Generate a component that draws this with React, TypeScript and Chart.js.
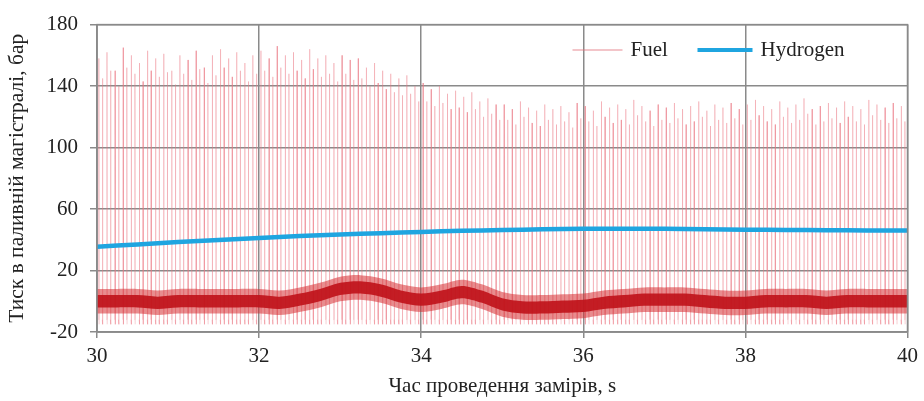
import React, { useEffect, useRef } from "react";
import { Chart, registerables } from "chart.js";

Chart.register(...registerables);

// Hydrogen line pressure (bar), sampled every 0.5 s from 30 to 40 s
const hydroTimes = [30, 30.5, 31, 31.5, 32, 32.5, 33, 33.5, 34, 34.5, 35, 35.5, 36, 36.5, 37, 37.5, 38, 38.5, 39, 39.5, 40];
const hydroValues = [35.5, 37, 38.5, 39.9, 41.2, 42.4, 43.4, 44.3, 45.1, 45.8, 46.3, 46.8, 47.1, 47.2, 47.1, 46.9, 46.6, 46.4, 46.2, 46.1, 46];

// Fuel baseline band (centre of the noisy trace), every 0.25 s
const bandTimes = [30, 30.25, 30.5, 30.75, 31, 31.25, 31.5, 31.75, 32, 32.25, 32.5, 32.75, 33, 33.25, 33.5, 33.75, 34, 34.25, 34.5, 34.75, 35, 35.25, 35.5, 35.75, 36, 36.25, 36.5, 36.75, 37, 37.25, 37.5, 37.75, 38, 38.25, 38.5, 38.75, 39, 39.25, 39.5, 39.75, 40];
const bandCenter = [0, 0, 0, -1, 0, 0, 0, 0, 0, -1, 1, 4, 8, 9, 7, 3, 1, 3, 6, 3, -2, -4, -4, -3.5, -3, -1, 0, 1, 1, 1, 0, -1, -1, 0, 0, 0, -1, 0, 0, 0, 0];

// Fuel injection pulses: peak pressure of each main pulse (one per 0.1 s)
const spikePeaks = [
  158, 162, 150, 165, 160, 155, 163, 158, 161, 150,
  160, 157, 163, 152, 160, 164, 158, 162, 155, 160,
  163, 158, 166, 160, 162, 157, 164, 158, 160, 155,
  160, 157, 158, 152, 155, 150, 148, 145, 147, 140,
  142, 138, 140, 135, 137, 133, 136, 130, 132, 128,
  128, 125, 130, 126, 124, 128, 125, 127, 123, 129,
  127, 124, 130, 126, 128, 125, 131, 127, 124, 128,
  126, 129, 125, 127, 130, 124, 128, 126, 129, 125,
  128, 131, 127, 125, 130, 126, 128, 132, 125, 127,
  129, 126, 130, 127, 125, 131, 128, 126, 129, 127,
];
// secondary (reflected) pulses between main pulses
const spikeMinor = [
  145, 150, 140, 152, 148, 143, 150, 146, 149, 141,
  148, 144, 151, 142, 147, 152, 146, 150, 143, 148,
  150, 146, 152, 148, 150, 145, 151, 146, 148, 143,
  148, 144, 145, 140, 142, 138, 136, 134, 135, 130,
  130, 127, 129, 125, 126, 123, 125, 120, 122, 118,
  118, 115, 120, 116, 114, 118, 115, 117, 113, 119,
  117, 114, 120, 116, 118, 115, 121, 117, 114, 118,
  116, 119, 115, 117, 120, 114, 118, 116, 119, 115,
  118, 121, 117, 115, 120, 116, 118, 122, 115, 117,
  119, 116, 120, 117, 115, 121, 118, 116, 119, 117,
];
const spikeLows = [-12, -15];

const xTicks = [30, 32, 34, 36, 38, 40];
const yTicks = [-20, 20, 60, 100, 140, 180];

const FONT = "'Liberation Serif', 'Times New Roman', serif";

export default function App() {
  const ref = useRef<HTMLCanvasElement | null>(null);

  useEffect(() => {
    document.body.style.margin = "0";
    const canvas = ref.current;
    if (!canvas) return;

    const hydro = hydroTimes.map((t, i) => ({ x: t, y: hydroValues[i] }));
    const outerUp = bandTimes.map((t, i) => ({ x: t, y: bandCenter[i] + 8 }));
    const outerLo = bandTimes.map((t, i) => ({ x: t, y: bandCenter[i] - 8 }));
    const innerUp = bandTimes.map((t, i) => ({ x: t, y: bandCenter[i] + 4 }));
    const innerLo = bandTimes.map((t, i) => ({ x: t, y: bandCenter[i] - 4 }));
    const spikes: { x: number; y: number | null }[] = [];
    const addPulse = (t: number, p: number) => {
      spikes.push({ x: t, y: spikeLows[0] });
      spikes.push({ x: t + 0.003, y: p });
      spikes.push({ x: t + 0.006, y: spikeLows[1] });
      spikes.push({ x: t + 0.007, y: null });
    };
    spikePeaks.forEach((p, i) => {
      addPulse(30 + 0.1 * i + 0.02, p);
      addPulse(30 + 0.1 * i + 0.065, spikeMinor[i]);
    });

    const legendPlugin = {
      id: "customLegend",
      afterDraw(chart: any) {
        const { ctx, chartArea } = chart;
        const y = 50;
        const r = chartArea.right;
        ctx.save();
        ctx.strokeStyle = "rgba(225,110,120,0.8)";
        ctx.lineWidth = 1;
        ctx.beginPath();
        ctx.moveTo(r - 335, y);
        ctx.lineTo(r - 285, y);
        ctx.stroke();
        ctx.strokeStyle = "#1fa5e0";
        ctx.lineWidth = 4;
        ctx.beginPath();
        ctx.moveTo(r - 210, y);
        ctx.lineTo(r - 155, y);
        ctx.stroke();
        ctx.fillStyle = "#222";
        ctx.font = `21px ${FONT}`;
        ctx.textBaseline = "middle";
        ctx.textAlign = "left";
        ctx.fillText("Fuel", r - 277, y);
        ctx.fillText("Hydrogen", r - 147, y);
        ctx.restore();
      },
    };

    const chart = new Chart(canvas, {
      type: "line",
      data: {
        datasets: [
          { label: "Hydrogen", data: hydro, borderColor: "#1fa5e0", borderWidth: 4.5, pointRadius: 0, tension: 0.4, order: 0 },
          { label: "bandOuterUp", data: outerUp, borderColor: "rgba(0,0,0,0)", borderWidth: 0, pointRadius: 0, fill: false, tension: 0.3, order: 2 },
          { label: "bandOuterLo", data: outerLo, borderColor: "rgba(0,0,0,0)", borderWidth: 0, pointRadius: 0, fill: "-1", tension: 0.3, backgroundColor: "rgba(214,45,50,0.55)", order: 2 },
          { label: "bandInnerUp", data: innerUp, borderColor: "rgba(0,0,0,0)", borderWidth: 0, pointRadius: 0, fill: false, tension: 0.3, order: 1 },
          { label: "bandInnerLo", data: innerLo, borderColor: "rgba(0,0,0,0)", borderWidth: 0, pointRadius: 0, fill: "-1", tension: 0.3, backgroundColor: "rgba(192,18,26,0.9)", order: 1 },
          { label: "Fuel", data: spikes as any, borderColor: "rgba(236,120,132,0.35)", borderWidth: 1, pointRadius: 0, spanGaps: false, order: 3 },
        ],
      },
      options: {
        animation: false,
        responsive: false,
        devicePixelRatio: 1,
        layout: { padding: { top: 20, right: 14, left: 0, bottom: 0 } },
        plugins: { legend: { display: false }, tooltip: { enabled: false } },
        scales: {
          x: {
            type: "linear",
            min: 30,
            max: 40,
            afterBuildTicks: (s: any) => { s.ticks = xTicks.map((v) => ({ value: v })); },
            afterFit: (s: any) => { s.height = 69; },
            ticks: { color: "#222", font: { family: FONT, size: 21 }, padding: 6, maxRotation: 0 },
            grid: { color: "#8a8a8a", lineWidth: 1.5, tickLength: 6 },
            border: { color: "#8a8a8a", width: 1.5 },
            title: { display: true, text: "Час проведення замірів, s", color: "#222", font: { family: FONT, size: 21 }, padding: { top: 0, bottom: 2 } },
          },
          y: {
            type: "linear",
            min: -20,
            max: 180,
            afterBuildTicks: (s: any) => { s.ticks = yTicks.map((v) => ({ value: v })); },
            afterFit: (s: any) => { s.width = 97; },
            ticks: { color: "#222", font: { family: FONT, size: 21 }, padding: 12 },
            grid: { color: "#8a8a8a", lineWidth: 1.5, tickLength: 7 },
            border: { color: "#8a8a8a", width: 1.5 },
            title: { display: true, text: "Тиск в паливній магістралі, бар", color: "#222", font: { family: FONT, size: 21.5 }, padding: { top: 4, bottom: 0 } },
          },
        },
      },
      plugins: [
        legendPlugin,
        {
          id: "frame",
          afterDatasetsDraw(chart: any) {
            const { ctx, chartArea } = chart;
            ctx.save();
            ctx.strokeStyle = "#8a8a8a";
            ctx.lineWidth = 1.5;
            ctx.strokeRect(chartArea.left, chartArea.top, chartArea.right - chartArea.left, chartArea.bottom - chartArea.top);
            ctx.restore();
          },
        },
      ],
    } as any);

    return () => chart.destroy();
  }, []);

  return (
    <div style={{ width: 924, height: 401 }}>
      <canvas ref={ref} width={924} height={401} />
    </div>
  );
}
